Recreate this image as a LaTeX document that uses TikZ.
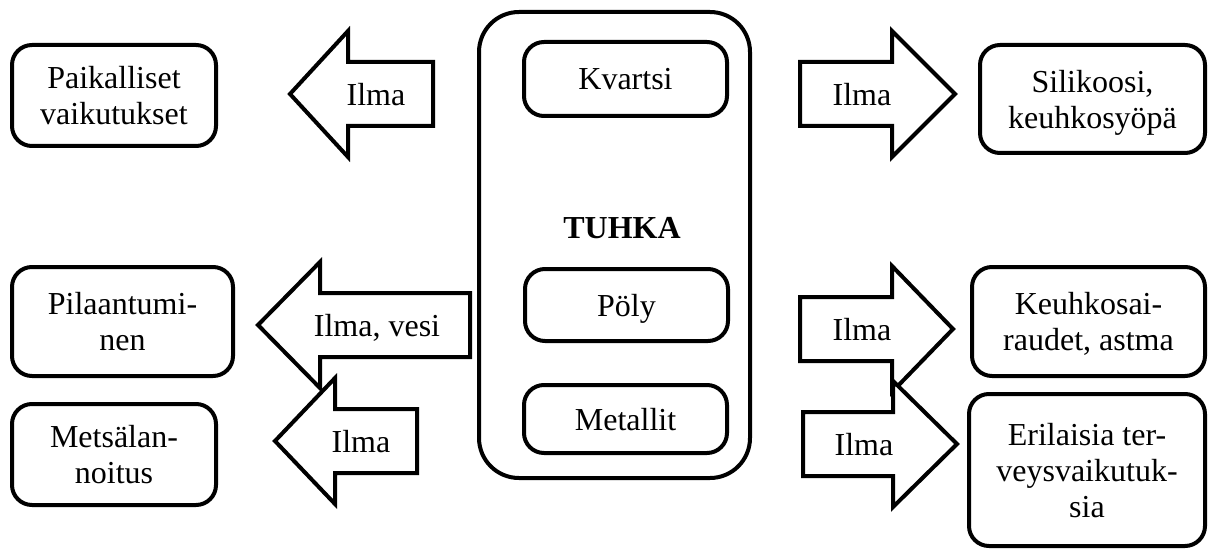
\documentclass[tikz,border=0pt]{standalone}
\usepackage{fontspec}
\setmainfont{Liberation Serif}
\usepackage{tikz}
\usetikzlibrary{positioning}

\tikzset{
  box/.style={draw, line width=2pt, rounded corners=10pt, align=center, fill=white, inner sep=2pt, text depth=0pt},
  blockarr/.style={draw, line width=2pt, fill=white, line join=miter},
  arrtext/.style={inner sep=0pt, text depth=0pt}
}

% block arrow: tail x, head base x, tip x, centre y
\newcommand{\airarrow}[4]{%
  \draw[blockarr] (#1,#4-32) -- (#2,#4-32) -- (#2,#4-63) -- (#3,#4)
    -- (#2,#4+63) -- (#2,#4+32) -- (#1,#4+32) -- cycle;}

\begin{document}
\begin{tikzpicture}[x=0.5pt, y=-0.5pt, font=\fontsize{16}{18}\selectfont]
\useasboundingbox (0,0) rectangle (1210,551);

% the ash in the middle
\node[box, rounded corners=20pt, minimum width=135.5pt, minimum height=233pt] (ash) at (614.5,245) {};
\node[font=\fontsize{16}{18}\selectfont\bfseries] (ashname) at (622,228) {TUHKA};
\node[box, minimum width=101.5pt, minimum height=37pt] (quartz) at (625.5,79) {Kvartsi};
\node[box, minimum width=101.5pt, minimum height=36pt] (dust) at (626.5,305) {Pöly};
\node[box, minimum width=101.5pt, minimum height=34pt] (metals) at (625.5,419) {Metallit};

% effects on the left
\node[box, minimum width=102pt, minimum height=50.5pt] (local) at (114,95.5) {Paikalliset\\vaikutukset};
\node[box, minimum width=110.5pt, minimum height=54.5pt] (spoil) at (122.5,321.5) {Pilaantumi-\\nen};
\node[box, minimum width=102pt, minimum height=50.5pt] (fert) at (114,454.5) {Metsälan-\\noitus};

% effects on the right
\node[box, minimum width=112.5pt, minimum height=54pt] (silic) at (1092.5,99) {Silikoosi,\\keuhkosyöpä};
\node[box, minimum width=116.5pt, minimum height=54.5pt] (lung) at (1088.5,321.5) {Keuhkosai-\\raudet, astma};
\node[box, minimum width=118pt, minimum height=76pt] (health) at (1087,470) {Erilaisia ter-\\veysvaikutuk-\\sia};

% arrows out of the ash
\airarrow{433}{348}{290}{94}
\node[arrtext] (a1) at (376,94) {Ilma};
\airarrow{470}{320}{258}{325}
\node[arrtext] (a2) at (377,325) {Ilma, vesi};
\airarrow{417}{335}{275}{441}
\node[arrtext] (a3) at (361,441) {Ilma};

\airarrow{800}{892}{955}{94}
\node[arrtext] (b1) at (862,94) {Ilma};
\airarrow{800}{892}{953}{329}
\node[arrtext] (b2) at (862,329) {Ilma};
\airarrow{803}{893}{957}{444}
\node[arrtext] (b3) at (864,444) {Ilma};
\end{tikzpicture}
\end{document}
